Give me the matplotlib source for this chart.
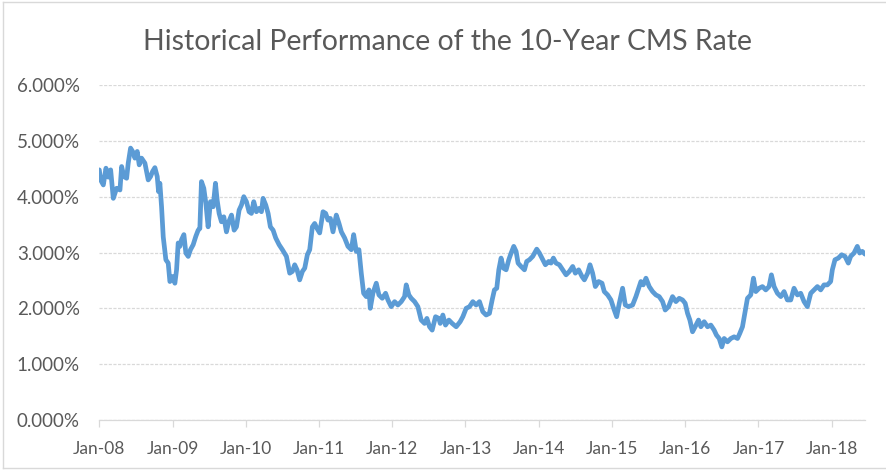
import matplotlib
matplotlib.use("Agg")
import matplotlib.pyplot as plt
from matplotlib.lines import Line2D
from matplotlib.ticker import FuncFormatter

plt.rcParams['font.family'] = ['Lato', 'DejaVu Sans']

title = "Historical Performance of the 10-Year CMS Rate"

# years elapsed since Jan 2008
years_since_2008 = [
    0.000, 0.018, 0.055, 0.091, 0.123, 0.155, 0.191, 0.236, 0.282, 0.305,
    0.336, 0.373, 0.395, 0.427, 0.455, 0.486, 0.518, 0.545, 0.577, 0.623,
    0.668, 0.700, 0.727, 0.759, 0.791, 0.809, 0.827, 0.850, 0.873, 0.909,
    0.941, 0.964, 1.000, 1.032, 1.055, 1.077, 1.100, 1.123, 1.155, 1.182,
    1.214, 1.245, 1.282, 1.318, 1.350, 1.373, 1.395, 1.427, 1.455, 1.486,
    1.518, 1.555, 1.586, 1.609, 1.636, 1.668, 1.700, 1.736, 1.768, 1.805,
    1.841, 1.873, 1.909, 1.941, 1.973, 2.009, 2.045, 2.077, 2.109, 2.145,
    2.182, 2.214, 2.236, 2.273, 2.305, 2.336, 2.373, 2.409, 2.455,
    2.500, 2.555, 2.600, 2.636, 2.668, 2.700, 2.736, 2.773, 2.805, 2.841,
    2.873, 2.909, 2.941, 2.973, 3.009, 3.055, 3.091, 3.123, 3.155, 3.191,
    3.236, 3.273, 3.305, 3.350, 3.395, 3.441, 3.473, 3.509, 3.545, 3.577,
    3.609, 3.645, 3.682, 3.700, 3.736, 3.782, 3.818, 3.864, 3.909, 3.941,
    3.986, 4.032, 4.077, 4.123, 4.168, 4.191, 4.227, 4.259, 4.305, 4.350,
    4.395, 4.441, 4.473, 4.509, 4.545, 4.591, 4.636,
    4.655, 4.691, 4.727, 4.773, 4.818, 4.873, 4.927, 4.964, 5.009, 5.055,
    5.100, 5.145, 5.191, 5.236, 5.282, 5.327, 5.364, 5.395, 5.427, 5.455,
    5.486, 5.518, 5.555, 5.591, 5.623, 5.659, 5.691, 5.718, 5.759, 5.805,
    5.836, 5.873, 5.918, 5.973, 6.009, 6.055, 6.091, 6.136, 6.168, 6.200,
    6.236, 6.282, 6.327, 6.373, 6.418, 6.464, 6.500, 6.545, 6.591, 6.623,
    6.668, 6.700, 6.736, 6.773, 6.818, 6.864, 6.895, 6.941, 6.986, 7.023,
    7.064, 7.100, 7.145, 7.182, 7.227, 7.282, 7.327,
    7.395, 7.427, 7.464, 7.509, 7.555, 7.600, 7.645, 7.691, 7.727, 7.773,
    7.827, 7.873, 7.918, 7.964, 8.000, 8.032, 8.064, 8.100, 8.136, 8.182,
    8.214, 8.259, 8.305, 8.350, 8.395, 8.427, 8.464, 8.500, 8.532, 8.577,
    8.623, 8.668, 8.714, 8.745, 8.782, 8.818, 8.850, 8.895, 8.932, 8.964,
    9.009, 9.055, 9.100, 9.145, 9.177, 9.214, 9.259, 9.305, 9.350, 9.395,
    9.441, 9.486, 9.532, 9.577, 9.623, 9.668, 9.714, 9.759, 9.805, 9.850,
    9.895, 9.941, 9.986, 10.009, 10.045, 10.091, 10.136, 10.182, 10.227, 10.259,
    10.305, 10.350, 10.382, 10.418, 10.455,
]

# 10-year CMS rate, percent
cms_rate_pct = [
    4.48, 4.30, 4.21, 4.51, 4.35, 4.48, 3.97, 4.15, 4.12, 4.54,
    4.36, 4.33, 4.60, 4.87, 4.81, 4.69, 4.81, 4.57, 4.69, 4.60,
    4.30, 4.36, 4.45, 4.52, 4.36, 4.09, 4.24, 3.82, 3.28, 2.87,
    2.81, 2.48, 2.57, 2.45, 2.69, 3.17, 3.11, 3.23, 3.32, 2.99,
    2.93, 3.05, 3.14, 3.29, 3.40, 3.43, 4.27, 4.15, 3.88, 3.46,
    3.91, 3.82, 4.24, 3.94, 3.70, 3.55, 3.64, 3.37, 3.55, 3.67,
    3.40, 3.46, 3.76, 3.85, 4.00, 3.91, 3.73, 3.70, 3.91, 3.73,
    3.79, 3.73, 3.97, 3.85, 3.70, 3.46, 3.40, 3.26, 3.14,
    3.05, 2.93, 2.63, 2.66, 2.78, 2.69, 2.51, 2.66, 2.72, 2.96,
    3.05, 3.46, 3.52, 3.43, 3.35, 3.73, 3.70, 3.58, 3.61, 3.37,
    3.67, 3.52, 3.37, 3.26, 3.11, 3.05, 3.32, 3.02, 3.05, 2.63,
    2.27, 2.21, 2.33, 2.00, 2.27, 2.45, 2.24, 2.18, 2.27, 2.15,
    2.03, 2.12, 2.06, 2.12, 2.21, 2.42, 2.24, 2.18, 2.12, 2.03,
    1.79, 1.73, 1.82, 1.67, 1.61, 1.85, 1.82,
    1.73, 1.88, 1.70, 1.79, 1.73, 1.67, 1.76, 1.85, 2.00, 2.03,
    2.12, 2.06, 2.12, 1.94, 1.88, 1.91, 2.15, 2.33, 2.36, 2.69,
    2.90, 2.72, 2.69, 2.87, 2.99, 3.11, 3.02, 2.81, 2.75, 2.69,
    2.84, 2.87, 2.93, 3.06, 2.99, 2.87, 2.78, 2.84, 2.81, 2.90,
    2.81, 2.78, 2.69, 2.60, 2.66, 2.75, 2.63, 2.69, 2.57, 2.51,
    2.63, 2.78, 2.63, 2.39, 2.48, 2.45, 2.30, 2.24, 2.15, 2.00,
    1.85, 2.09, 2.36, 2.06, 2.03, 2.06, 2.21,
    2.48, 2.42, 2.54, 2.39, 2.30, 2.24, 2.21, 2.12, 1.97, 2.03,
    2.21, 2.12, 2.18, 2.15, 2.09, 1.91, 1.79, 1.58, 1.67, 1.79,
    1.67, 1.76, 1.67, 1.70, 1.61, 1.52, 1.46, 1.31, 1.46, 1.40,
    1.46, 1.49, 1.46, 1.55, 1.67, 1.94, 2.18, 2.24, 2.54, 2.30,
    2.36, 2.39, 2.33, 2.39, 2.60, 2.39, 2.27, 2.21, 2.30, 2.15,
    2.15, 2.36, 2.24, 2.27, 2.12, 2.03, 2.27, 2.33, 2.39, 2.33,
    2.42, 2.42, 2.48, 2.69, 2.87, 2.90, 2.96, 2.93, 2.81, 2.93,
    2.99, 3.11, 2.99, 3.02, 2.97,
]

x_tick_years = [0, 1, 2, 3, 4, 5, 6, 7, 8, 9, 10]
x_tick_labels = ["Jan-08", "Jan-09", "Jan-10", "Jan-11", "Jan-12", "Jan-13",
                 "Jan-14", "Jan-15", "Jan-16", "Jan-17", "Jan-18"]
y_ticks = [0, 1, 2, 3, 4, 5, 6]

TEXT = "#595959"
GRID = "#D9D9D9"
LINE = "#5B9BD5"

fig = plt.figure(figsize=(8.87, 4.72), dpi=100)
fig.patch.set_facecolor("white")
ax = fig.add_axes([99.3 / 887, 1 - 420 / 472, (865 - 99.3) / 887, (420 - 85) / 472])

ax.plot(years_since_2008, cms_rate_pct, color=LINE, linewidth=3.4,
        solid_joinstyle="round", solid_capstyle="round", zorder=3)

ax.set_xlim(0, years_since_2008[-1])
ax.set_ylim(0, 6)
ax.set_yticks(y_ticks)
ax.yaxis.set_major_formatter(FuncFormatter(lambda v, p: f"{v:.3f}%"))
ax.set_xticks(x_tick_years)
ax.set_xticklabels(x_tick_labels)

ax.grid(axis="y", color=GRID, linewidth=0.9, linestyle=(0, (2.5, 1.2)))
ax.set_axisbelow(True)
for s in ["top", "right", "left"]:
    ax.spines[s].set_visible(False)
ax.spines["bottom"].set_color(GRID)
ax.spines["bottom"].set_linewidth(0.9)

ax.tick_params(axis="y", length=0, pad=14, labelsize=13.5, labelcolor=TEXT)
ax.tick_params(axis="x", length=5, width=0.9, color=GRID, pad=10,
               labelsize=12.5, labelcolor=TEXT)

fig.text(447.5 / 887, 1 - 42 / 472, title, ha="center", va="center",
         fontsize=20.4, color=TEXT)

# chart-area border (left, top, bottom visible)
for (x0, y0, x1, y1) in [(3, 2, 3, 468), (3, 2, 887, 2), (3, 468, 887, 468)]:
    fig.add_artist(Line2D([x0 / 887, x1 / 887], [1 - y0 / 472, 1 - y1 / 472],
                          transform=fig.transFigure, color=GRID, linewidth=1.0))

fig.savefig("out.png", dpi=100)
